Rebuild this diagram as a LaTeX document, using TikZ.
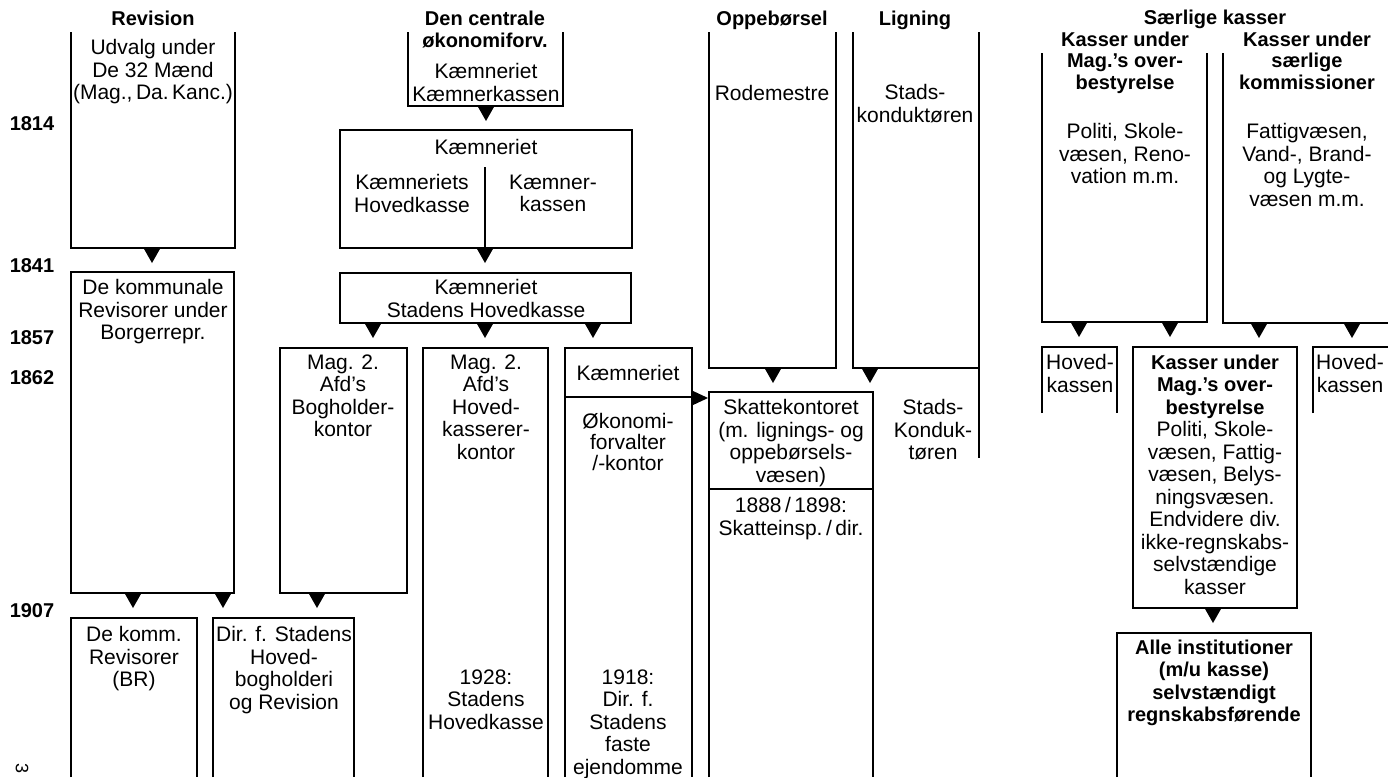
\documentclass[tikz,border=0pt]{standalone}
\usepackage{fontspec}
\setmainfont{Liberation Sans}
\newcommand\bx[1]{{\fontsize{20}{22.5}\selectfont\bfseries #1}}
\begin{document}
\begin{tikzpicture}[x=1pt,y=-1pt]
\tikzset{
 ln/.style={draw=black,line width=1.7pt,line join=miter},
 tx/.style={font=\fontsize{21}{22.5}\selectfont,align=center,inner sep=0pt,anchor=north,yshift=8.5pt,execute at begin node={\rule{0pt}{16pt}}},
 hd/.style={tx,font=\fontsize{20}{22.5}\selectfont\bfseries},
 dtri/.pic={\fill[black] (-8.5,0) -- (8.5,0) -- (0,15) -- cycle;},
 rtri/.pic={\fill[black] (0,-7.5) -- (0,7.5) -- (16,0) -- cycle;},
}
\fill[white] (0,0) rectangle (1388,777);
\useasboundingbox (0,0) rectangle (1388,777);

% headings
\node[hd] (hRev) at (153,18) {Revision};
\node[hd] (hCen) at (485,19) {Den centrale\\økonomiforv.};
\node[hd] (hOpp) at (772,18) {Oppebørsel};
\node[hd] (hLig) at (915,18) {Ligning};
\node[hd] (hSae) at (1215,17) {Særlige kasser};
\node[hd,font=\fontsize{20}{21.5}\selectfont\bfseries] (hMag) at (1125,40) {Kasser under\\Mag.'s over-\\bestyrelse};
\node[hd,font=\fontsize{20}{21.5}\selectfont\bfseries] (hKom) at (1307,40) {Kasser under\\særlige\\kommissioner};

% years
\node[hd] (y1814) at (32,123) {1814};
\node[hd] (y1841) at (32,265) {1841};
\node[hd] (y1857) at (32,337) {1857};
\node[hd] (y1862) at (32,377) {1862};
\node[hd] (y1907) at (32,610) {1907};
\node[font=\fontsize{18}{18}\selectfont,rotate=-90,inner sep=0pt] (pg) at (22,768) {3};

% Revision column
\draw[ln] (71,32) -- (71,248) -- (235,248) -- (235,32);
\node[tx] (udv) at (153,48) {Udvalg under\\De 32 Mænd\\(Mag.,\,Da.\,Kanc.)};
\coordinate (a1) at (152,248); \pic at (a1) {dtri};
\draw[ln] (71,272) rectangle (234,593);
\node[tx] (kommrev) at (153,288) {De kommunale\\Revisorer under\\Borgerrepr.};
\coordinate (a2) at (133,593); \pic at (a2) {dtri};
\coordinate (a3) at (223,593); \pic at (a3) {dtri};
\draw[ln] (71,777) -- (71,618) -- (197,618) -- (197,777);
\node[tx] (dekomm) at (134,635) {De komm.\\Revisorer\\(BR)};
\draw[ln] (213,777) -- (213,618) -- (354,618) -- (354,777);
\node[tx] (dir) at (284,635) {Dir. f. Stadens\\Hoved-\\bogholderi\\og Revision};

% central economy
\draw[ln] (408,32) -- (408,106) -- (563,106) -- (563,32);
\node[tx] (kk) at (486,72) {Kæmneriet\\Kæmnerkassen};
\coordinate (a4) at (486,106); \pic at (a4) {dtri};
\draw[ln] (340,130) rectangle (632,248);
\draw[ln] (485,167) -- (485,248);
\node[tx] (k14) at (486,147) {Kæmneriet};
\node[tx] (khk) at (412,183) {Kæmneriets\\Hovedkasse};
\node[tx] (kkas) at (553,183) {Kæmner-\\kassen};
\coordinate (a5) at (485,248); \pic at (a5) {dtri};
\draw[ln] (340,273) rectangle (631,323);
\node[tx] (shk) at (486,288) {Kæmneriet\\Stadens Hovedkasse};
\coordinate (a6) at (373,323); \pic at (a6) {dtri};
\coordinate (a7) at (485,323); \pic at (a7) {dtri};
\coordinate (a8) at (593,323); \pic at (a8) {dtri};
\draw[ln] (280,348) rectangle (407,593);
\node[tx] (bog) at (343,363) {Mag. 2.\\Afd's\\Bogholder-\\kontor};
\coordinate (a9) at (317,593); \pic at (a9) {dtri};
\draw[ln] (423,777) -- (423,348) -- (548,348) -- (548,777);
\node[tx] (hkk) at (486,363) {Mag. 2.\\Afd's\\Hoved-\\kasserer-\\kontor};
\node[tx] (s28) at (486,678) {1928:\\Stadens\\Hovedkasse};
\draw[ln] (565,777) -- (565,348) -- (692,348) -- (692,777);
\draw[ln] (565,397) -- (692,397);
\node[tx] (k62) at (628,373) {Kæmneriet};
\node[tx,font=\fontsize{21}{21}\selectfont] (oko) at (628,422) {Økonomi-\\forvalter\\/-kontor};
\node[tx] (d18) at (628,678) {1918:\\Dir. f.\\Stadens\\faste\\ejendomme};
\coordinate (a10) at (692,398); \pic at (a10) {rtri};

% Oppebørsel / Ligning
\draw[ln] (709,32) -- (709,368) -- (836,368) -- (836,32);
\node[tx] (rode) at (772,93) {Rodemestre};
\coordinate (a11) at (773,368); \pic at (a11) {dtri};
\draw[ln] (853,32) -- (853,368) -- (979,368);
\draw[ln] (979,32) -- (979,458);
\node[tx] (sk1) at (915,93) {Stads-\\konduktøren};
\coordinate (a12) at (870,368); \pic at (a12) {dtri};
\node[tx] (sk2) at (933,408) {Stads-\\Konduk-\\tøren};
\draw[ln] (709,777) -- (709,392) -- (873,392) -- (873,777);
\draw[ln] (709,489) -- (873,489);
\node[tx] (skat) at (791,408) {Skattekontoret\\(m. lignings- og\\oppebørsels-\\væsen)};
\node[tx] (insp) at (791,506) {1888\,/\,1898:\\Skatteinsp.\,/\,dir.};

% Særlige kasser
\draw[ln] (1042,53) -- (1042,322) -- (1207,322) -- (1207,53);
\node[tx] (pol) at (1125,132) {Politi, Skole-\\væsen, Reno-\\vation m.m.};
\coordinate (a13) at (1079,322); \pic at (a13) {dtri};
\coordinate (a14) at (1170,322); \pic at (a14) {dtri};
\draw[ln] (1223,53) -- (1223,323) -- (1388,323);
\node[tx] (fat) at (1307,132) {Fattigvæsen,\\Vand-, Brand-\\og Lygte-\\væsen m.m.};
\coordinate (a15) at (1259,323); \pic at (a15) {dtri};
\coordinate (a16) at (1352,323); \pic at (a16) {dtri};
\draw[ln] (1042,413) -- (1042,347) -- (1117,347) -- (1117,413);
\node[tx] (hk1) at (1080,363) {Hoved-\\kassen};
\draw[ln] (1313,413) -- (1313,347) -- (1388,347);
\node[tx] (hk2) at (1350,363) {Hoved-\\kassen};
\draw[ln] (1133,347) rectangle (1297,608);
\node[tx] (mid) at (1215,363) {\bx{Kasser under}\\\bx{Mag.'s over-}\\\bx{bestyrelse}\\Politi, Skole-\\væsen, Fattig-\\væsen, Belys-\\ningsvæsen.\\Endvidere div.\\ikke-regnskabs-\\selvstændige\\kasser};
\coordinate (a17) at (1213,608); \pic at (a17) {dtri};
\draw[ln] (1117,777) -- (1117,633) -- (1311,633) -- (1311,777);
\node[hd] (alle) at (1214,648) {Alle institutioner\\(m/u kasse)\\selvstændigt\\regnskabsførende};
\end{tikzpicture}
\end{document}
